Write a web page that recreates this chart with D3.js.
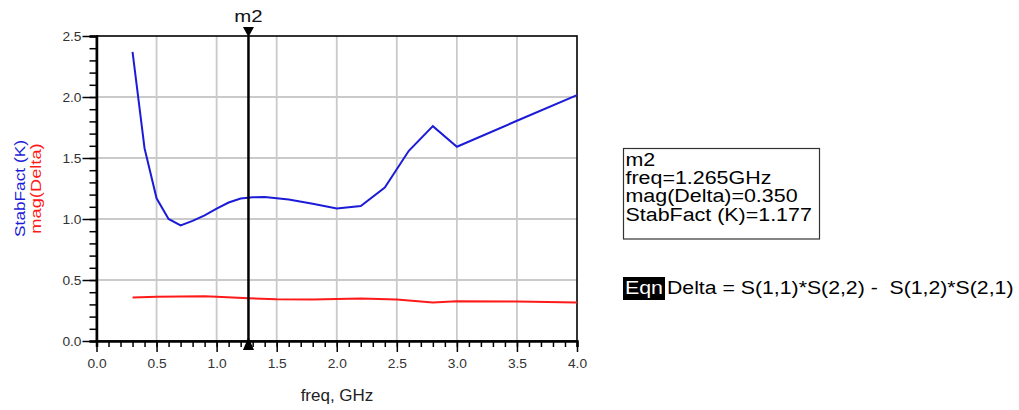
<!DOCTYPE html>
<html>
<head>
<meta charset="utf-8">
<script src="https://cdn.jsdelivr.net/npm/d3@7"></script>
<style>
  body { margin: 0; background: #fff; }
  svg { display: block; font-family: "Liberation Sans", Arial, sans-serif; }
</style>
</head>
<body>
<div id="chart"></div>
<script>
// StabFact (K)
const freqK = [0.3, 0.4, 0.5, 0.6, 0.7, 0.8, 0.9, 1.0, 1.1, 1.2, 1.3, 1.4, 1.5, 1.6, 1.8, 2.0, 2.2, 2.4, 2.6, 2.8, 3.0, 3.5, 4.0];
const stabK = [2.37, 1.58, 1.17, 1.0, 0.948, 0.985, 1.03, 1.085, 1.135, 1.168, 1.178, 1.18, 1.17, 1.16, 1.125, 1.086, 1.107, 1.258, 1.559, 1.761, 1.592, 1.805, 2.016];

// mag(Delta)
const freqD = [0.3, 0.5, 0.7, 0.9, 1.0, 1.265, 1.5, 1.8, 2.0, 2.2, 2.5, 2.8, 3.0, 3.5, 4.0];
const magDelta = [0.356, 0.362, 0.365, 0.366, 0.363, 0.350, 0.342, 0.340, 0.344, 0.348, 0.340, 0.315, 0.326, 0.323, 0.315];

const xTicks = [0, 0.5, 1, 1.5, 2, 2.5, 3, 3.5, 4];
const yTicks = [0, 0.5, 1, 1.5, 2, 2.5];

const markerName = "m2";
const markerFreq = 1.265;
const markerLines = ["m2", "freq=1.265GHz", "mag(Delta)=0.350", "StabFact (K)=1.177"];
const eqnText = "Delta = S(1,1)*S(2,2) -  S(1,2)*S(2,1)";

const width = 1019, height = 410;
const margin = { top: 36, right: 442, bottom: 69, left: 96.5 };

// the original text renders wider than Arial, stretch it along the baseline
function stretch(sel, k) {
  sel.each(function () {
    const len = this.getComputedTextLength();
    d3.select(this).attr("textLength", len * k).attr("lengthAdjust", "spacingAndGlyphs");
  });
}

const svg = d3.select("#chart").append("svg")
  .attr("width", width).attr("height", height);

const x = d3.scaleLinear().domain([0, 4]).range([margin.left, width - margin.right]);
const y = d3.scaleLinear().domain([0, 2.5]).range([height - margin.bottom, margin.top]);

// grid
const grid = svg.append("g").attr("stroke", "#cacaca").attr("stroke-width", 1.8);
grid.selectAll(".gx").data(xTicks.slice(1, -1)).join("line")
  .attr("x1", d => x(d)).attr("x2", d => x(d))
  .attr("y1", y(0)).attr("y2", y(2.5));
grid.selectAll(".gy").data(yTicks.slice(1, -1)).join("line")
  .attr("x1", x(0)).attr("x2", x(4))
  .attr("y1", d => y(d)).attr("y2", d => y(d));

// frame
svg.append("rect")
  .attr("x", x(0)).attr("y", y(2.5))
  .attr("width", x(4) - x(0)).attr("height", y(0) - y(2.5))
  .attr("fill", "none").attr("stroke", "#000").attr("stroke-width", 1.6);

// axes
const tickFont = g => g.selectAll("text")
  .attr("font-size", 12.5).attr("fill", "#333")
  .attr("font-family", "Liberation Sans, Arial, sans-serif")
  .call(stretch, 1.1);

const gX = svg.append("g").attr("transform", `translate(0,${y(0)})`);
gX.call(d3.axisBottom(x).tickValues(d3.range(0, 41).map(i => i / 10)).tickSize(6).tickFormat(""))
  .call(g => g.selectAll("line").attr("stroke-width", 1.5));
gX.append("g").call(d3.axisBottom(x).tickValues(xTicks).tickSize(11).tickPadding(7).tickFormat(d3.format(".1f")))
  .call(g => g.select(".domain").remove())
  .call(g => g.selectAll("line").attr("stroke-width", 1.5))
  .call(tickFont);
gX.select(".domain").attr("stroke-width", 2.5);

const gY = svg.append("g").attr("transform", `translate(${x(0)},0)`);
gY.call(d3.axisLeft(y).tickValues(d3.range(0, 26).map(i => i / 10)).tickSize(7).tickFormat(""))
  .call(g => g.selectAll("line").attr("stroke-width", 1.5));
gY.append("g").call(d3.axisLeft(y).tickValues(yTicks).tickSize(14).tickPadding(1).tickFormat(d3.format(".1f")))
  .call(g => g.select(".domain").remove())
  .call(g => g.selectAll("line").attr("stroke-width", 1.5))
  .call(tickFont);
gY.select(".domain").attr("stroke-width", 2.5);

// axis titles
svg.append("text")
  .attr("x", 337).attr("y", 401)
  .attr("text-anchor", "middle").attr("font-size", 17).attr("fill", "#222")
  .text("freq, GHz");

const yTitle = svg.append("g").attr("transform", `translate(0,${(y(0) + y(2.5)) / 2}) rotate(-90)`);
yTitle.append("text").attr("x", 0).attr("y", 24.5).attr("text-anchor", "middle")
  .attr("font-size", 14.5).attr("fill", "#1c1cd8").text("StabFact (K)")
  .call(stretch, 1.19);
yTitle.append("text").attr("x", 0).attr("y", 40.5).attr("text-anchor", "middle")
  .attr("font-size", 14.5).attr("fill", "#ff1a1a").text("mag(Delta)")
  .call(stretch, 1.26);

// traces
const line = d3.line().x(d => x(d[0])).y(d => y(d[1]));
svg.append("path")
  .datum(d3.zip(freqK, stabK))
  .attr("d", line).attr("fill", "none")
  .attr("stroke", "#1c1cd8").attr("stroke-width", 2);
svg.append("path")
  .datum(d3.zip(freqD, magDelta))
  .attr("d", line).attr("fill", "none")
  .attr("stroke", "#ff1a1a").attr("stroke-width", 2);

// marker
const mx = x(markerFreq);
svg.append("line")
  .attr("x1", mx).attr("x2", mx).attr("y1", y(2.5)).attr("y2", y(0))
  .attr("stroke", "#000").attr("stroke-width", 2.5);
svg.append("path")
  .attr("d", `M${mx - 5.5},${y(2.5) - 9}L${mx + 5.5},${y(2.5) - 9}L${mx},${y(2.5) + 1}Z`)
  .attr("fill", "#000");
svg.append("path")
  .attr("d", `M${mx - 5.5},${y(0) + 9}L${mx + 5.5},${y(0) + 9}L${mx},${y(0) - 4}Z`)
  .attr("fill", "#000");
svg.append("text")
  .attr("x", mx).attr("y", 22).attr("text-anchor", "middle")
  .attr("font-size", 17).attr("fill", "#111").text(markerName)
  .call(stretch, 1.2);

// marker readout box
const box = svg.append("g").attr("transform", "translate(623.5,148.5)");
box.append("rect").attr("width", 196).attr("height", 90.5)
  .attr("fill", "#fff").attr("stroke", "#333").attr("stroke-width", 1.2);
box.selectAll("text").data(markerLines).join("text")
  .attr("x", 2).attr("y", (d, i) => 17.5 + i * 18.2)
  .attr("font-size", 18).attr("fill", "#000").text(d => d)
  .call(stretch, 1.19);

// equation
const eqn = svg.append("g").attr("transform", "translate(623,277)");
eqn.append("rect").attr("width", 42).attr("height", 23).attr("fill", "#000");
eqn.append("text").attr("x", 2).attr("y", 17).attr("font-size", 18).attr("fill", "#fff").text("Eqn")
  .attr("textLength", 38).attr("lengthAdjust", "spacingAndGlyphs");
eqn.append("text").attr("x", 44).attr("y", 17).attr("font-size", 18).attr("fill", "#000")
  .attr("xml:space", "preserve").style("white-space", "pre").text(eqnText)
  .call(stretch, 1.18);
</script>
</body>
</html>
